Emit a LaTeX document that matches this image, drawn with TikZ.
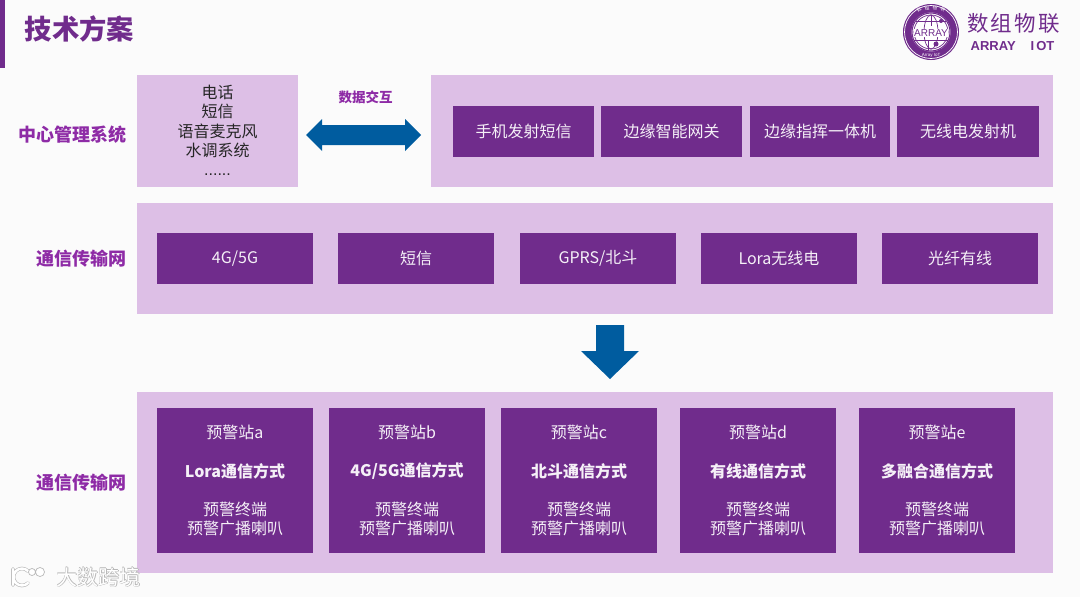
\documentclass[tikz,border=0pt]{standalone}
\usepackage{fontspec}
\setmainfont{Noto Sans CJK SC}
\newfontfamily\lat{Liberation Sans}
\usetikzlibrary{calc}
\definecolor{bgc}{HTML}{FBFBFB}
\definecolor{pan}{HTML}{DDBFE6}
\definecolor{box}{HTML}{702C8C}
\definecolor{lab}{HTML}{8E2BA6}
\definecolor{arr}{HTML}{005C9F}
\tikzset{x=1pt,y=-1pt,
 panelbox/.style={fill=pan,inner sep=0pt,outer sep=0pt,anchor=north west},
 darkbox/.style={fill=box,inner sep=0pt,outer sep=0pt,anchor=north west},
 wtext/.style={text=white!93!box,font=\fontsize{16}{19}\selectfont,inner sep=0pt,align=center},
 wbold/.style={wtext,font=\fontsize{16}{19}\selectfont\bfseries},
 sidelabel/.style={text=lab,font=\fontsize{18}{20}\selectfont\bfseries,inner sep=0pt,anchor=east},
 bigarrow/.style={fill=arr,draw=none},
 ringtext/.style={text=white,inner sep=0pt,font=\fontsize{4.5}{5}\selectfont},
 ghost/.style={inner sep=0pt,anchor=west,font=\fontsize{21}{24}\selectfont}
}
\newcommand{\pbox}[5]{\node[panelbox,minimum width=#3pt-#1pt,minimum height=#4pt-#2pt] (#5) at (#1,#2) {};}
\newcommand{\dbox}[5]{\node[darkbox,minimum width=#3pt-#1pt,minimum height=#4pt-#2pt] (#5) at (#1,#2) {};}
\newcommand{\station}[5]{%
 \dbox{#2}{408}{#3}{553}{s#1}
 \node[wtext] (s#1a) at ($(s#1.north)+(0,24.5)$) {#4};
 \node[wbold] (s#1b) at ($(s#1.north)+(0,63)$) {#5};
 \node[wtext] (s#1c) at ($(s#1.north)+(0,110.5)$) {预警终端\\预警广播喇叭};
}
\begin{document}
\begin{tikzpicture}
\useasboundingbox (0,0) rectangle (1080,597);
\fill[bgc] (0,0) rectangle (1080,597);
\fill[box] (0,0) rectangle (5,68);
\node[inner sep=0pt,anchor=west,text=box,font=\fontsize{27.3}{30}\selectfont\bfseries] (title) at (24.5,28.5) {技术方案};

% logo
\fill[box] (931,32) circle (28);
\draw[white,line width=0.7pt] (931,32) circle (26.5);
\fill[white] (931,32) circle (19.5);
\draw[box,line width=1pt] (931,32) circle (19);
\begin{scope}
\clip (931,32) circle (19);
\draw[box,line width=0.7pt] (931,32) ellipse (17 and 17);
\draw[box,line width=0.7pt] (931,32) ellipse (7 and 17);
\draw[box,line width=0.7pt] (916,21) -- (946,21);
\draw[box,line width=0.7pt] (931,15) -- (931,26);
\draw[box,line width=1pt] (912,40) -- (950,40);
\draw[box,line width=0.7pt] (928,40) -- (928,52);
\fill[box] (936,44) circle (2.5);
\fill[box] (941,21) circle (2);
\end{scope}
\node[inner sep=0.5pt,fill=white,text=box,font=\lat\fontsize{10}{11}\selectfont] (logotxt) at (931,33) {ARRAY};
\node[ringtext,rotate=33] (rt1) at (919,9.5) {数};
\node[ringtext,rotate=11] (rt2) at (927,8) {组};
\node[ringtext,rotate=-11] (rt3) at (935,8) {物};
\node[ringtext,rotate=-33] (rt4) at (943,9.5) {联};
\node[ringtext,font=\lat\fontsize{4.5}{5}\selectfont] (rt5) at (931,55) {Array IoT};
\node[inner sep=0pt,text=box,font=\fontsize{21.5}{24}\selectfont] (brand) at (1013.5,23.5) {数\hspace{2.2pt}组\hspace{2.2pt}物\hspace{2.2pt}联};
\node[inner sep=0pt,text=box,font=\lat\fontsize{13}{15}\selectfont\bfseries] (brand2) at (1012.5,46) {ARRAY\hspace{15pt}I\hspace{2pt}OT};

% panels
\pbox{137}{75}{298}{187}{p1}
\pbox{431}{75}{1053}{187}{p2}
\pbox{137}{203}{1053}{314}{p3}
\pbox{137}{392}{1053}{573}{p4}

% side labels
\node[sidelabel] (l1) at (127,134.5) {中心管理系统};
\node[sidelabel] (l2) at (127,258.5) {通信传输网};
\node[sidelabel] (l3) at (127,482.5) {通信传输网};

% panel 1
\node[inner sep=0pt,align=center,text=black!85,font=\fontsize{16}{19.3}\selectfont] (t1) at (217.5,130.5) {电话\\短信\\语音麦克风\\水调系统\\{\lat ......}};

% arrows
\node[inner sep=0pt,text=lab,font=\fontsize{13.5}{15}\selectfont\bfseries] (dx) at (365.5,97) {数据交互};
\fill[bigarrow] (306,135) -- (322,119) -- (322,125) -- (405,125) -- (405,119) -- (421,135) -- (405,151) -- (405,145) -- (322,145) -- (322,151) -- cycle;
\fill[bigarrow] (596,325) -- (624,325) -- (624,351) -- (639,351) -- (610,379) -- (581,351) -- (596,351) -- cycle;

% row 1
\dbox{453}{106}{594}{157}{a1}\node[wtext] (a1t) at (a1) {手机发射短信};
\dbox{601}{106}{742}{157}{a2}\node[wtext] (a2t) at (a2) {边缘智能网关};
\dbox{750}{106}{890}{157}{a3}\node[wtext] (a3t) at (a3) {边缘指挥一体机};
\dbox{897}{106}{1039}{157}{a4}\node[wtext] (a4t) at (a4) {无线电发射机};

% row 2
\dbox{157}{233}{313}{284}{b1}\node[wtext] (b1t) at (b1) {4G/5G};
\dbox{338}{233}{494}{284}{b2}\node[wtext] (b2t) at (b2) {短信};
\dbox{520}{233}{676}{284}{b3}\node[wtext] (b3t) at (b3) {GPRS/北斗};
\dbox{701}{233}{857}{284}{b4}\node[wtext] (b4t) at (b4) {Lora无线电};
\dbox{882}{233}{1038}{284}{b5}\node[wtext] (b5t) at (b5) {光纤有线};

% row 3
\station{1}{157}{313}{预警站a}{Lora通信方式}
\station{2}{329}{485}{预警站b}{4G/5G通信方式}
\station{3}{501}{657}{预警站c}{北斗通信方式}
\station{4}{680}{836}{预警站d}{有线通信方式}
\station{5}{859}{1015}{预警站e}{多融合通信方式}

% watermark
\draw[black!28,line width=3.6pt,line cap=round] (13,569) -- (13,585) (28,571) arc (-45:-315:8.5);
\draw[white,line width=2.4pt,line cap=round] (13,569) -- (13,585) (28,571) arc (-45:-315:8.5);
\draw[black!28,fill=white,line width=0.7pt] (32,572) circle (3.5) (40,572) circle (4.5);
\foreach \dx/\dy [count=\i] in {-0.6/0,0.6/0,0/-0.6,0/0.6}
  \node[ghost,text=black!28] (wm\i) at (56.5+\dx,577+\dy) {大数跨境};
\node[ghost,text=white] (wm) at (56.5,577) {大数跨境};
\end{tikzpicture}
\end{document}
